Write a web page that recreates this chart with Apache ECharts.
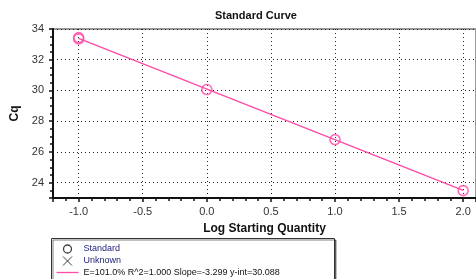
<!DOCTYPE html>
<html style="height: 100%">
<head>
    <meta charset="utf-8">
    <script src="https://cdn.jsdelivr.net/npm/echarts@6/dist/echarts.min.js"></script>
</head>
<body style="height: 100%; margin: 0; background: #fff">
    <div id="main" style="width:476px;height:279px;"></div>
    <script type="text/javascript">
    // standard points (log quantity, Cq)
    var stdX = [-1, -1, 0, 1, 2];
    var stdCq = [33.44, 33.36, 30.06, 26.80, 23.48];
    // fitted line end points
    var fitX = [-1, 2];
    var fitCq = [33.39, 23.49];
    var fitLabel = 'E=101.0% R^2=1.000 Slope=-3.299 y-int=30.088';
    var pink = '#ff4aa8';

    // legend icons, drawn in a 22x9 box (the lone moves fix the box)
    var iconCircle = 'path://M0,0M22,9M15,4.5A4,4 0 1 1 7,4.5A4,4 0 1 1 15,4.5Z';
    var iconCross = 'path://M0,0M22,9M6.5,0L15.5,9M15.5,0L6.5,9';
    var iconLine = 'path://M0,0M22,9M0,4.5L22,4.5';

    // one legend per row so the rows stack like the original box
    function legendRow(top, item) {
        return {
            orient: 'vertical',
            left: 54, top: top,
            padding: 0,
            itemWidth: 22,
            itemHeight: 9,
            itemGap: 0,
            z: 5,
            textStyle: { fontFamily: 'Liberation Sans', fontSize: 9, color: '#111' },
            data: [item]
        };
    }

    var myChart = echarts.init(document.getElementById('main'));

    var option = {
        animation: false,
        title: {
            text: 'Standard Curve',
            left: 210,
            top: 5,
            textStyle: { fontFamily: 'Liberation Sans', fontSize: 11, fontWeight: 'bold', color: '#111' }
        },
        grid: {
            left: 53, top: 29, right: -3, bottom: 81,
            show: true,
            borderColor: '#999',
            borderWidth: 2
        },
        graphic: [{
            type: 'rect',
            left: 51, top: 238,
            shape: { width: 283, height: 50 },
            style: {
                fill: '#fff', stroke: '#333', lineWidth: 1,
                shadowColor: 'rgba(0,0,0,0.5)', shadowOffsetX: 1.5, shadowOffsetY: 1.5
            },
            z: 0
        }],
        legend: [
            legendRow(242, { name: 'Standard', icon: iconCircle, itemStyle: { color: 'none', borderColor: '#111', borderWidth: 1.3 }, textStyle: { color: '#1c1c78' } }),
            legendRow(254, { name: 'Unknown', icon: iconCross, itemStyle: { color: 'none', borderColor: '#111', borderWidth: 1 }, textStyle: { color: '#1c1c78' } }),
            legendRow(265.5, { name: fitLabel, icon: iconLine, itemStyle: { color: 'none', borderColor: pink, borderWidth: 1.3 }, lineStyle: { color: pink, width: 1.3 } })
        ],
        xAxis: {
            type: 'value',
            min: -1.2, max: 2.1,
            splitNumber: 6,
            name: 'Log Starting Quantity',
            nameLocation: 'middle',
            nameGap: 25,
            nameTextStyle: { fontFamily: 'Liberation Sans', fontSize: 12, fontWeight: 'bold', color: '#111' },
            axisLine: { onZero: false, lineStyle: { color: '#111', width: 2 } },
            axisTick: { length: 4, lineStyle: { color: '#111', width: 1.5 } },
            minorTick: { show: true, splitNumber: 5, length: 3, lineStyle: { color: '#111', width: 1.5 } },
            axisLabel: {
                showMinLabel: false, showMaxLabel: false, margin: 8,
                fontFamily: 'Liberation Sans', fontSize: 11, color: '#333',
                formatter: function(v) { return v.toFixed(1); }
            },
            splitLine: { show: true, lineStyle: { color: '#222', type: [1, 3], width: 1 } }
        },
        yAxis: {
            type: 'value',
            min: 23, max: 34,
            splitNumber: 5,
            name: 'Cq',
            nameLocation: 'middle',
            nameRotate: 90,
            nameGap: 30,
            nameTextStyle: { fontFamily: 'Liberation Sans', fontSize: 12, fontWeight: 'bold', color: '#111' },
            axisLine: { onZero: false, lineStyle: { color: '#111', width: 2 } },
            axisTick: { length: 4, lineStyle: { color: '#111', width: 1.5 } },
            minorTick: { show: true, splitNumber: 4, length: 3, lineStyle: { color: '#111', width: 1.5 } },
            axisLabel: {
                showMinLabel: false, margin: 9,
                fontFamily: 'Liberation Sans', fontSize: 11, color: '#333'
            },
            splitLine: { show: true, lineStyle: { color: '#222', type: [1, 3], width: 1 } }
        },
        series: [{
            name: fitLabel,
            type: 'line',
            data: fitX.map(function(x, i) { return [x, fitCq[i]]; }),
            showSymbol: false,
            symbol: 'none',
            lineStyle: { color: pink, width: 1.3 },
            itemStyle: { color: pink },
            z: 2
        }, {
            name: 'Standard',
            type: 'scatter',
            data: stdX.map(function(x, i) { return [x, stdCq[i]]; }),
            symbol: 'circle',
            symbolSize: 10,
            itemStyle: { color: 'rgba(0,0,0,0)', borderColor: pink, borderWidth: 1.6 },
            z: 3
        }, {
            name: 'Unknown',
            type: 'scatter',
            data: [],
            symbol: 'path://M0,0L10,10M10,0L0,10'
        }]
    };

    myChart.setOption(option);
    </script>
</body>
</html>
